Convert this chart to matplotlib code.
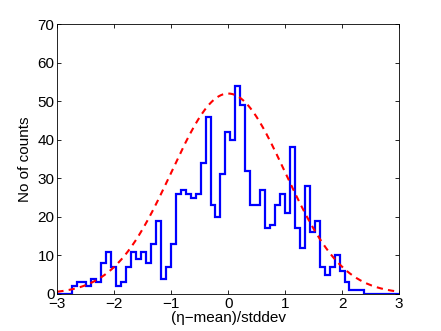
import numpy as np
import matplotlib
matplotlib.use('Agg')
from matplotlib import pyplot as plt

plt.rcParams['font.family'] = ['Liberation Sans', 'DejaVu Sans']

# histogram counts (59 bins)
counts = [2, 3, 3, 2, 4, 3, 8, 11, 7, 2,
          3, 7, 11, 9, 11, 8, 13, 19, 4, 7,
          13, 26, 27, 26, 25, 26, 34, 46, 23, 20,
          31, 42, 40, 54, 49, 32, 23, 23, 27, 17,
          18, 23, 26, 21, 38, 17, 12, 28, 16, 19,
          7, 5, 7, 10, 6, 3, 1, 1, 1]
bin_lo = -2.75
bin_hi = 2.39

# fitted normal curve: mean, std, peak height
fit_mean = 0.0
fit_std = 1.0
fit_peak = 52.0

edges = np.linspace(bin_lo, bin_hi, len(counts) + 1)

fig = plt.figure(figsize=(4.41, 3.31), dpi=100)
ax = fig.add_axes([0.130, 0.112, 0.775, 0.815])

# stairs padded with empty bins out to the axis limits
ax.stairs(np.r_[0, counts, 0], np.r_[-3, edges, 3], color='#0000ff', linewidth=1.6, baseline=None)

xs = np.linspace(-3, 3, 300)
ax.plot(xs, fit_peak * np.exp(-0.5 * ((xs - fit_mean) / fit_std) ** 2),
        color='#ff0000', linestyle='--', linewidth=1.5, dashes=(3, 2.5))

ax.set_xlim(-3, 3)
ax.set_ylim(0, 70)
ax.set_xticks([-3, -2, -1, 0, 1, 2, 3])
ax.set_yticks(range(0, 71, 10))
ax.set_xticklabels(['\u22123', '\u22122', '\u22121', '0', '1', '2', '3'])
ax.tick_params(direction='in', length=3, width=0.6, top=True, right=True, labelsize=11, pad=2)
for s in ax.spines.values():
    s.set_linewidth(0.6)

ax.set_xlabel('(\u03b7\u2212mean)/stddev', fontsize=11, labelpad=0)
ax.set_ylabel('No of counts', fontsize=11, labelpad=4)

fig.savefig('out.png', dpi=100)
